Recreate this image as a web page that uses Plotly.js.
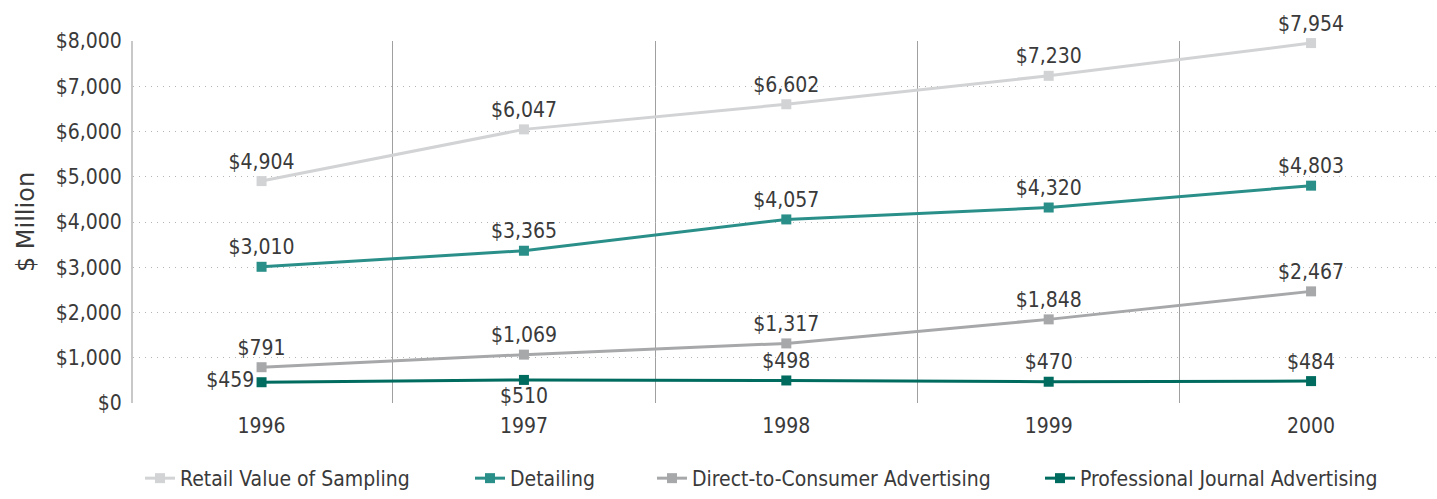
<!DOCTYPE html>
<html>
<head>
<meta charset="utf-8">
<script src="https://cdn.plot.ly/plotly-3.0.1.min.js"></script>
<style>html,body{margin:0;padding:0;background:#fff;}#chart{width:1437px;height:499px;}</style>
</head>
<body>
<div id="chart"></div>
<script>
const years = ['1996', '1997', '1998', '1999', '2000'];
const retailSampling = [4904, 6047, 6602, 7230, 7954];
const detailing = [3010, 3365, 4057, 4320, 4803];
const dtcAdvertising = [791, 1069, 1317, 1848, 2467];
const journalAdvertising = [459, 510, 498, 470, 484];
const seriesNames = ['Retail Value of Sampling', 'Detailing', 'Direct-to-Consumer Advertising', 'Professional Journal Advertising'];
const yTickVals = [0, 1000, 2000, 3000, 4000, 5000, 6000, 7000, 8000];
const yTickText = ['$0', '$1,000', '$2,000', '$3,000', '$4,000', '$5,000', '$6,000', '$7,000', '$8,000'];

const FONT = '"DejaVu Sans Condensed", sans-serif';
const fmt = v => '$' + v.toLocaleString('en-US');
const legendX = [140, 470, 652, 1040];

function mk(i, vals, color, pos) {
  return {
    type: 'scatter', mode: 'lines+markers+text', name: seriesNames[i],
    legend: i === 0 ? 'legend' : 'legend' + (i + 1),
    x: years, y: vals,
    text: vals.map(fmt), textposition: pos,
    textfont: {family: FONT, size: 21, color: '#3a3a3a'},
    line: {color: color, width: 3},
    marker: {symbol: 'square', size: 10, color: color},
    cliponaxis: false
  };
}

const data = [
  mk(0, retailSampling, '#d2d3d5', 'top center'),
  mk(1, detailing, '#2a8f89', 'top center'),
  mk(2, dtcAdvertising, '#a7a8aa', 'top center'),
  mk(3, journalAdvertising, '#006b5f', ['middle left', 'bottom center', 'top center', 'top center', 'top center'])
];

const layout = {
  width: 1437, height: 499,
  margin: {l: 133, r: 0, t: 41, b: 96},
  paper_bgcolor: '#fff', plot_bgcolor: '#fff',
  font: {family: FONT, size: 20, color: '#3a3a3a'},
  showlegend: true,
  xaxis: {
    type: 'category', range: [-0.49, 4.48],
    tickson: 'boundaries', showgrid: true, gridcolor: '#a0a0a0', gridwidth: 1,
    showline: false, zeroline: false, ticks: '', ticklen: 0, ticklabelstandoff: 8,
    tickfont: {family: FONT, size: 21, color: '#3a3a3a'}
  },
  yaxis: {
    range: [0, 8000], tickvals: yTickVals, ticktext: yTickText,
    showgrid: true, gridcolor: '#b5b5b5', griddash: '1px,5px', gridwidth: 1,
    showline: true, linecolor: '#c8c8c8', linewidth: 2, zeroline: false,
    ticks: '', ticklabelstandoff: 5,
    tickfont: {family: FONT, size: 21, color: '#3a3a3a'},
    title: {text: '$ Million', font: {family: '"DejaVu Sans", sans-serif', size: 24, color: '#3a3a3a'}, standoff: 14}
  }
};
legendX.forEach((px, i) => {
  const key = i === 0 ? 'legend' : 'legend' + (i + 1);
  layout[key] = {orientation: 'h', xref: 'paper', x: (px - 133) / 1304, xanchor: 'left',
                 yref: 'container', y: 0, yanchor: 'bottom', bgcolor: 'rgba(0,0,0,0)',
                 font: {family: FONT, size: 21, color: '#3a3a3a'}};
});

Plotly.newPlot('chart', data, layout, {displayModeBar: false, staticPlot: true});
</script>
</body>
</html>
